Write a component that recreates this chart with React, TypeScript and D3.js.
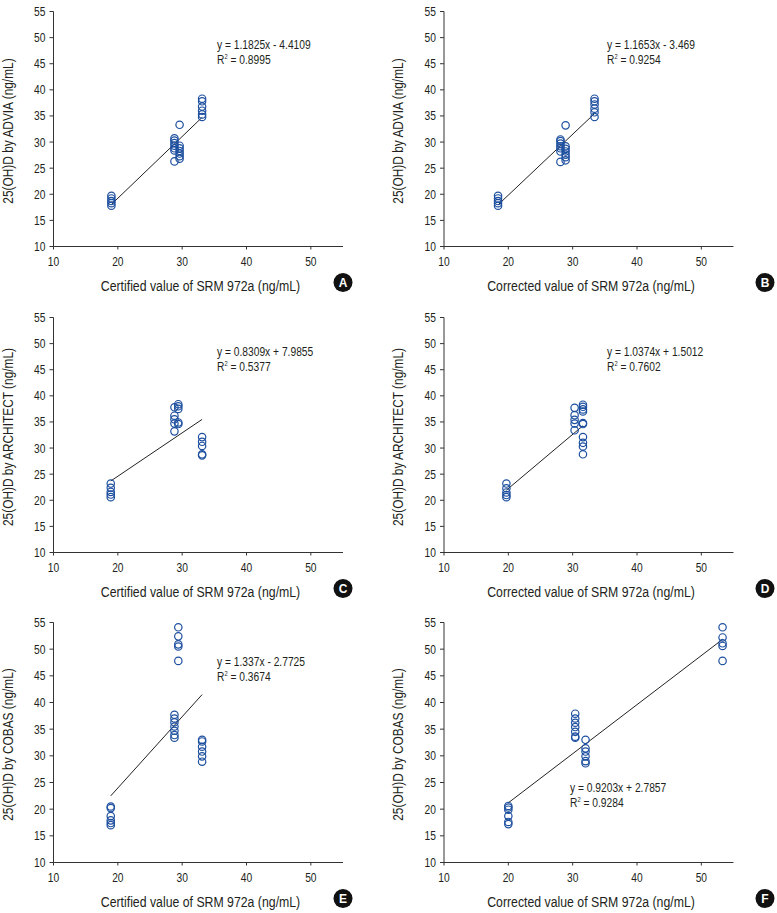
import React from "react";
import * as d3 from "d3";

// ---- data ----
const panelIds = ["A", "B", "C", "D", "E", "F"];
const yTitles = [
  "25(OH)D by ADVIA (ng/mL)",
  "25(OH)D by ADVIA (ng/mL)",
  "25(OH)D by ARCHITECT (ng/mL)",
  "25(OH)D by ARCHITECT (ng/mL)",
  "25(OH)D by COBAS (ng/mL)",
  "25(OH)D by COBAS (ng/mL)",
];
const xTitles = [
  "Certified value of SRM 972a (ng/mL)",
  "Corrected value of SRM 972a (ng/mL)",
  "Certified value of SRM 972a (ng/mL)",
  "Corrected value of SRM 972a (ng/mL)",
  "Certified value of SRM 972a (ng/mL)",
  "Corrected value of SRM 972a (ng/mL)",
];
const eqTexts = [
  "y = 1.1825x - 4.4109",
  "y = 1.1653x - 3.469",
  "y = 0.8309x + 7.9855",
  "y = 1.0374x + 1.5012",
  "y = 1.337x - 2.7725",
  "y = 0.9203x + 2.7857",
];
const r2Texts = ["0.8995", "0.9254", "0.5377", "0.7602", "0.3674", "0.9284"];
const slopes = [1.1825, 1.1653, 0.8309, 1.0374, 1.337, 0.9203];
const intercepts = [-4.4109, -3.469, 7.9855, 1.5012, -2.7725, 2.7857];

const xTicks = [10, 20, 30, 40, 50];
const yTicks = [10, 15, 20, 25, 30, 35, 40, 45, 50, 55];

// groups of x values and their y values
const aX = [19.0, 28.8, 29.6, 33.1];
const aY = [
  [19.7, 19.2, 18.7, 18.3, 17.8],
  [30.7, 30.3, 29.8, 29.3, 28.8, 28.4, 26.3],
  [33.3, 29.3, 28.8, 28.3, 27.8, 27.3, 26.8],
  [38.3, 37.8, 36.8, 36.0, 35.3, 34.8],
];
const bX = [18.4, 28.1, 28.9, 33.4];
const bY = [
  [19.7, 19.2, 18.7, 18.3, 17.8],
  [30.5, 30.2, 29.7, 29.2, 28.8, 28.2, 26.2],
  [33.2, 29.2, 28.7, 28.2, 27.6, 27.1, 26.5],
  [38.3, 37.8, 37.2, 36.4, 35.7, 34.8],
];
const cX = [18.9, 28.8, 29.4, 33.1];
const cY = [
  [23.2, 22.4, 21.6, 21.1, 20.6],
  [37.8, 36.2, 35.5, 34.7, 33.2],
  [38.4, 38.0, 37.5, 34.9, 34.6],
  [32.1, 31.2, 30.4, 28.8, 28.6],
];
const dX = [19.7, 30.3, 31.6];
const dY = [
  [23.2, 22.3, 21.5, 21.0, 20.6],
  [37.7, 36.3, 35.4, 34.7, 33.4],
  [38.3, 37.9, 37.4, 37.0, 34.8, 34.6, 32.1, 31.0, 30.3, 28.8],
];
const eX = [18.9, 28.8, 29.4, 33.1];
const eY = [
  [20.5, 20.2, 18.7, 17.9, 17.4, 17.0],
  [37.7, 37.0, 36.3, 35.5, 34.7, 33.9, 33.4],
  [54.1, 52.4, 50.9, 50.5, 47.8],
  [33.0, 32.7, 31.7, 30.8, 29.9, 28.9],
];
const fX = [20.0, 30.4, 32.0, 53.3];
const fY = [
  [20.6, 20.3, 19.9, 18.7, 17.6, 17.2],
  [37.9, 37.0, 36.2, 35.4, 34.5, 33.6, 33.4],
  [33.0, 31.4, 30.8, 29.9, 29.0, 28.6],
  [54.1, 52.2, 51.1, 50.6, 47.8],
];
const groupXs = [aX, bX, cX, dX, eX, fX];
const groupYs = [aY, bY, cY, dY, eY, fY];

// ---- layout ----
const FONT = "'Liberation Sans', Arial, sans-serif";
const SX = 0.82; // horizontal condensing, approximating a narrow face
const colLeft = [53.5, 444];
const plotW = 289.5;
const rowTop = [11.5, 317.5, 622.5];
const rowH = [235, 235, 240];
const eqPos = [
  [217, 49],
  [607, 49],
  [217, 356],
  [607, 356],
  [217, 666],
  [570, 792],
];
const blue = "#1d4f9f";
const ink = "#231f20";

function NText({
  x,
  y,
  size,
  anchor = "start",
  rotate = 0,
  dy = "0",
  children,
}: {
  x: number;
  y: number;
  size: number;
  anchor?: string;
  rotate?: number;
  dy?: string;
  children: React.ReactNode;
}) {
  return (
    <text
      transform={`translate(${x},${y}) rotate(${rotate}) scale(${SX},1)`}
      textAnchor={anchor as any}
      dy={dy}
      fontSize={size}
      fill={ink}
      fontFamily={FONT}
    >
      {children}
    </text>
  );
}

function Panel({ i }: { i: number }) {
  const col = i % 2;
  const row = Math.floor(i / 2);
  const x0 = colLeft[col];
  const y0 = rowTop[row];
  const h = rowH[row];
  const x = d3.scaleLinear().domain([10, 55]).range([x0, x0 + plotW]);
  const y = d3.scaleLinear().domain([10, 55]).range([y0 + h, y0]);
  const xs = groupXs[i];
  const ys = groupYs[i];
  const pts: [number, number][] = [];
  xs.forEach((xv, k) => ys[k].forEach((yv) => pts.push([xv, yv])));
  const xmin = d3.min(xs) as number;
  const xmax = d3.max(xs) as number;
  const f = (v: number) => slopes[i] * v + intercepts[i];
  const line = d3.line<number>().x((v) => x(v)).y((v) => y(f(v)));
  const axisColor = "#333";
  const cx = col === 0 ? 343 : 765;
  const cy = y0 + h + 36;
  return (
    <g>
      {/* axes */}
      <line x1={x0} x2={x0} y1={y0} y2={y0 + h} stroke={axisColor} strokeWidth={1} />
      <line x1={x0} x2={x0 + plotW} y1={y0 + h} y2={y0 + h} stroke={axisColor} strokeWidth={1} />
      {yTicks.map((t) => (
        <g key={"y" + t}>
          <line x1={x0 - 4} x2={x0} y1={y(t)} y2={y(t)} stroke={axisColor} />
          <NText x={x0 - 8} y={y(t)} dy="0.36em" anchor="end" size={12.5}>
            {t}
          </NText>
        </g>
      ))}
      {xTicks.map((t) => (
        <g key={"x" + t}>
          <line x1={x(t)} x2={x(t)} y1={y0 + h} y2={y0 + h + 3} stroke={axisColor} />
          <NText x={x(t)} y={y0 + h + 15} dy="0.36em" anchor="middle" size={12.5}>
            {t}
          </NText>
        </g>
      ))}
      {/* regression line */}
      <path d={line([xmin, xmax]) || ""} stroke="#222" strokeWidth={1} fill="none" />
      {/* points */}
      {pts.map((p, k) => (
        <circle key={k} cx={x(p[0])} cy={y(p[1])} r={3.7} fill="none" stroke={blue} strokeWidth={1.2} />
      ))}
      {/* equation */}
      <NText x={eqPos[i][0]} y={eqPos[i][1]} size={12.5}>
        {eqTexts[i]}
      </NText>
      <NText x={eqPos[i][0]} y={eqPos[i][1] + 15} size={12.5}>
        R<tspan fontSize={7} dy={-5}>2</tspan>
        <tspan dy={5}>{" = " + r2Texts[i]}</tspan>
      </NText>
      {/* titles */}
      <NText x={col === 0 ? 8 : 398} y={y0 + h / 2 + 2} rotate={-90} anchor="middle" dy="0.36em" size={14.5}>
        {yTitles[i]}
      </NText>
      <NText x={x0 + 147} y={y0 + h + 39} anchor="middle" dy="0.36em" size={15}>
        {xTitles[i]}
      </NText>
      {/* panel badge */}
      <circle cx={cx} cy={cy} r={9.5} fill="#111" />
      <text x={cx} y={cy} dy="0.36em" textAnchor="middle" fontSize={12} fontWeight="bold" fill="#fff" fontFamily={FONT}>
        {panelIds[i]}
      </text>
    </g>
  );
}

export default function App() {
  return (
    <svg width={777} height={913} style={{ position: "absolute", left: 0, top: 0, background: "#fff" }}>
      <rect width={777} height={913} fill="#fff" />
      {panelIds.map((_, i) => (
        <Panel key={i} i={i} />
      ))}
    </svg>
  );
}
